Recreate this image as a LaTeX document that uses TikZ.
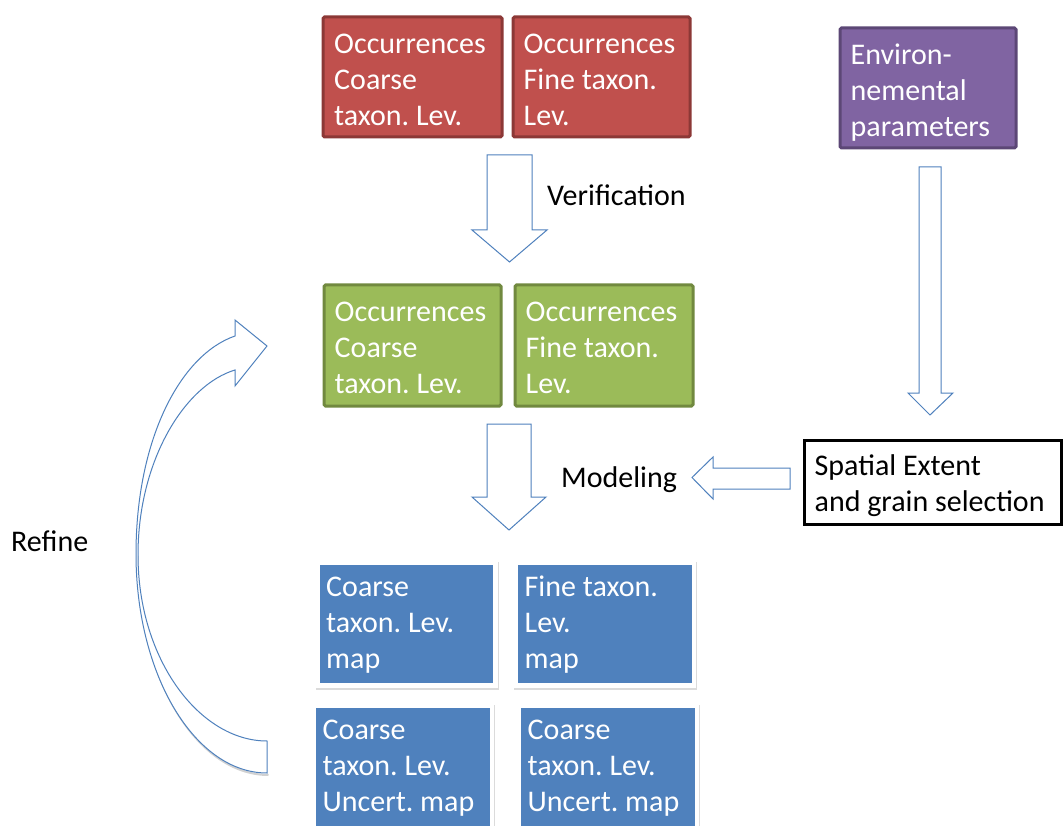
\documentclass[tikz,border=0pt]{standalone}
\usepackage{fontspec}
\setmainfont{Carlito}
\frenchspacing
\definecolor{redfill}{RGB}{192,80,77}
\definecolor{redline}{RGB}{140,56,54}
\definecolor{greenfill}{RGB}{155,187,89}
\definecolor{greenline}{RGB}{113,137,63}
\definecolor{purplefill}{RGB}{128,100,162}
\definecolor{purpleline}{RGB}{92,71,118}
\definecolor{bluefill}{RGB}{79,129,189}
\definecolor{arrowline}{RGB}{79,129,189}
\tikzset{
  x=1pt, y=1pt,
  boxbase/.style={inner sep=0pt, anchor=north west},
  colbox/.style={boxbase, draw=#1line, fill=#1fill, line width=3pt, rounded corners=1.5pt},
  mapbox/.style={boxbase, draw=white, fill=bluefill, line width=4.5pt,
    preaction={draw=black!14, line width=5pt, transform canvas={xshift=1.2pt, yshift=-2pt}}},
  plainbox/.style={boxbase, draw=black, fill=white, line width=3pt},
  boxtext/.style={align=left, inner sep=0pt, anchor=west, text=white,
    font=\fontsize{30}{36}\selectfont},
  lbl/.style={font=\fontsize{30}{36}\selectfont, text=black, inner sep=0pt, anchor=base west},
  blockarrow/.style={draw=arrowline, fill=white, line width=1pt, line join=miter},
}
\begin{document}
\begin{tikzpicture}
\useasboundingbox (0,0) rectangle (1063,-826);
\clip (0,0) rectangle (1063,-826);
\fill[white] (0,0) rectangle (1063,-826);

% top row (red)
\node[colbox=red, minimum width=179, minimum height=120] (r1) at (321.5,-15.5) {};
\node[boxtext] (r1t) at ([xshift=12.5pt,yshift=-2.5pt]r1.west) {Occurrences\\Coarse\\taxon. Lev.};
\node[colbox=red, minimum width=177, minimum height=120] (r2) at (511.5,-15.5) {};
\node[boxtext] (r2t) at ([xshift=12pt,yshift=-2.5pt]r2.west) {Occurrences\\Fine taxon.\\Lev.};

% environmental parameters (purple)
\node[colbox=purple, minimum width=176, minimum height=120] (env) at (838.5,-26.5) {};
\node[boxtext] (envt) at ([xshift=12pt,yshift=-5pt]env.west) {Environ-\\nemental\\parameters};

% verification arrow
\draw[blockarrow] (487,-155) -- (532,-155) -- (532,-230) -- (547,-230) -- (509.5,-262)
  -- (472,-230) -- (487,-230) -- cycle;
\node[lbl] (verif) at (547,-206) {Verification};

% middle row (green)
\node[colbox=green, minimum width=177, minimum height=121] (g1) at (322.5,-283.5) {};
\node[boxtext] (g1t) at ([xshift=12pt,yshift=-2pt]g1.west) {Occurrences\\Coarse\\taxon. Lev.};
\node[colbox=green, minimum width=178, minimum height=121] (g2) at (513.5,-283.5) {};
\node[boxtext] (g2t) at ([xshift=12pt,yshift=-2pt]g2.west) {Occurrences\\Fine taxon.\\Lev.};

% environmental arrow
\draw[blockarrow] (919,-167) -- (941,-167) -- (941,-393) -- (953,-393) -- (930,-415)
  -- (908,-393) -- (919,-393) -- cycle;

% spatial extent box
\node[plainbox, minimum width=257, minimum height=84] (spat) at (802.5,-438.5) {};
\node[boxtext, text=black] (spatt) at ([xshift=12pt,yshift=-3.5pt]spat.west) {Spatial Extent\\and grain selection};

% modeling arrows
\draw[blockarrow] (487,-424) -- (531,-424) -- (531,-497) -- (546,-497) -- (509,-530)
  -- (472,-497) -- (487,-497) -- cycle;
\draw[blockarrow] (790,-468) -- (713,-468) -- (713,-457) -- (692,-477.5) -- (713,-499)
  -- (713,-489) -- (790,-489) -- cycle;
\node[lbl] (model) at (561,-487) {Modeling};

% maps (blue)
\node[mapbox, minimum width=178, minimum height=123] (m1) at (315,-560) {};
\node[boxtext] (m1t) at ([xshift=11pt,yshift=-1pt]m1.west) {Coarse\\taxon. Lev.\\map};
\node[mapbox, minimum width=178, minimum height=123] (m2) at (513.5,-560) {};
\node[boxtext] (m2t) at ([xshift=11pt,yshift=-1pt]m2.west) {Fine taxon.\\Lev.\\map};
\node[mapbox, minimum width=178, minimum height=134] (u1) at (311.5,-703.5) {};
\node[boxtext] (u1t) at ([xshift=11pt,yshift=5pt]u1.west) {Coarse\\taxon. Lev.\\Uncert. map};
\node[mapbox, minimum width=178, minimum height=134] (u2) at (516.5,-703.5) {};
\node[boxtext] (u2t) at ([xshift=11pt,yshift=5pt]u2.west) {Coarse\\taxon. Lev.\\Uncert. map};

% refine arrow
\draw[black!18, line width=2pt, transform canvas={xshift=1.5pt, yshift=-2pt}]
  (267,-773) .. controls (195,-773) and (136,-675) .. (136,-554);
\draw[blockarrow] (267,-773) .. controls (195,-773) and (136,-675) .. (136,-554)
  .. controls (136,-440) and (180,-355) .. (235,-336) -- (235,-320) -- (267,-346)
  -- (235,-386) -- (235,-370) .. controls (185,-385) and (138,-460) .. (138,-555)
  .. controls (138,-660) and (200,-741) .. (267,-741) -- cycle;
\node[lbl] (refine) at (11,-551) {Refine};
\end{tikzpicture}
\end{document}
